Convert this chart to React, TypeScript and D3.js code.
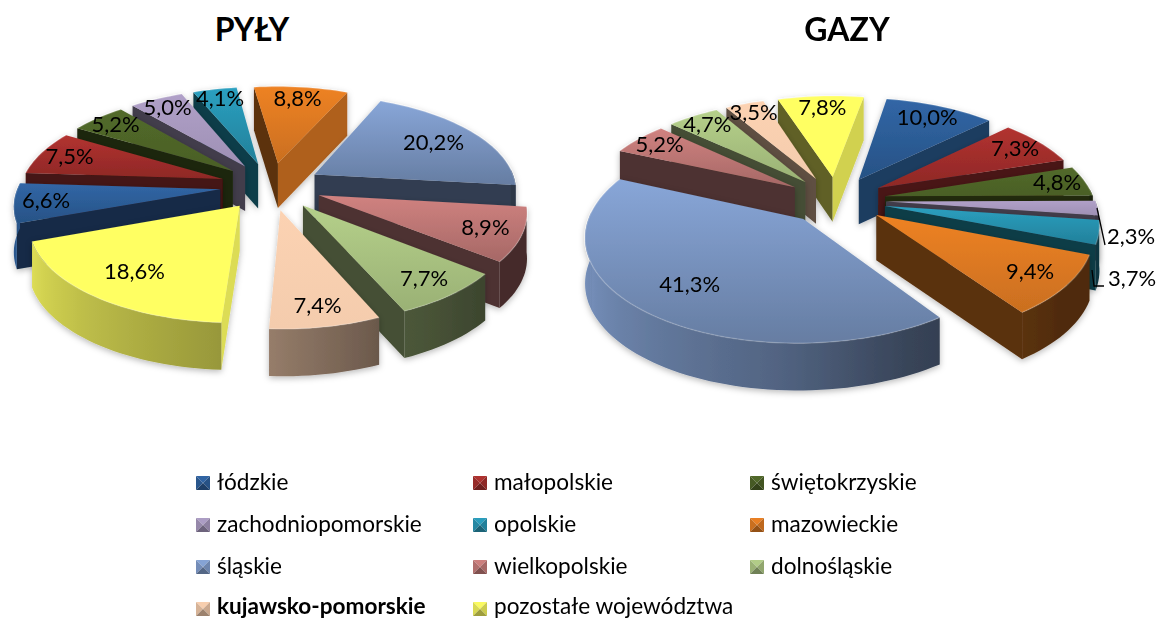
import React from "react";
import * as d3 from "d3";

const regions = ["łódzkie","małopolskie","świętokrzyskie","zachodniopomorskie","opolskie","mazowieckie","śląskie","wielkopolskie","dolnośląskie","kujawsko-pomorskie","pozostałe województwa"];
const pylyValues = [6.6,7.5,5.2,5.0,4.1,8.8,20.2,8.9,7.7,7.4,18.6];
const gazyValues = [10.0,7.3,4.8,2.3,3.7,9.4,41.3,5.2,4.7,3.5,7.8];
const topColors = ["#3166a6","#b23230","#526a2a","#b0a0c8","#2ba0c0","#ee8224","#88a6d8","#d08280","#b5d08a","#fcd2b2","#ffff62"];
const topFade = [0.8,0.8,0.9,0.9,0.8,0.85,0.75,0.8,0.85,0.97,1];
const FONT = "Lato, 'Open Sans', sans-serif";

type Chart = { id:string; title:string; titleX:number; values:number[]; cx:number; cy:number; R:number; e:number; sq:number; start:number };
const charts: Chart[] = [
  { id:"p", title:"PYŁY", titleX:252, values:pylyValues, cx:271, cy:186, R:202, e:51, sq:0.465, start:250 },
  { id:"g", title:"GAZY", titleX:847, values:gazyValues, cx:836, cy:200, R:209, e:50, sq:0.476, start:10 },
];
const DEPTH = 1400, THICK = 45;
const rad = (d:number)=>d*Math.PI/180;
const mul = (c:string,b:number)=>{const r=d3.rgb(c);return d3.rgb(r.r*b,r.g*b,r.b*b).formatHex();};
const faceShade = d3.scaleLinear().domain([90,115,160,190,360]).range([0.88,0.73,0.42,0.37,0.4]).clamp(true);
const rimShade = d3.scaleLinear().domain([90,130,156,184,251,290]).range([0.33,0.33,0.42,0.6,0.87,0.8]).clamp(true);
const labelRadius = d3.scaleLinear().domain([5,20]).range([0.86,0.74]).clamp(true);
const line = d3.line();

function PieChart({c}:{c:Chart}) {
  const arcs = d3.pie<number>().sort(null).value(d=>d).startAngle(rad(c.start)).endAngle(rad(c.start+360))(c.values);
  const pr = (u:number,v:number,z=0):[number,number]=>{
    const s = DEPTH/(DEPTH-v);
    return [c.cx+u*s, c.cy+c.sq*v*s+z*THICK*Math.pow(s,0.25)];
  };
  const defs:React.ReactNode[] = [];
  const slices = arcs.map((a,i)=>{
    const m=(a.startAngle+a.endAngle)/2;
    const ox=c.e*Math.sin(m), oy=-c.e*Math.cos(m);
    const at=(t:number,r:number,z=0)=>pr(ox+r*Math.sin(t),oy-r*Math.cos(t),z);
    const n=Math.max(8,Math.ceil((a.endAngle-a.startAngle)/rad(2)));
    const ts=d3.range(n+1).map(k=>a.startAngle+(a.endAngle-a.startAngle)*k/n);
    const base=topColors[i];
    const topPts=[at(0,0),...ts.map(t=>at(t,c.R))];
    const ys=topPts.map(p=>p[1]);
    const gid=`${c.id}t${i}`;
    defs.push(<linearGradient key={gid} id={gid} gradientUnits="userSpaceOnUse" x1="0" x2="0" y1={d3.min(ys)} y2={d3.max(ys)}>
      <stop offset="0" stopColor={base}/><stop offset="1" stopColor={mul(base,topFade[i])}/></linearGradient>);
    const walls:React.ReactNode[]=[];
    [[a.startAngle,-90],[a.endAngle,90]].forEach(([t,off],k)=>{
      const q=[at(0,0),at(t,c.R),at(t,c.R,1),at(0,0,1)];
      const area=d3.polygonArea(q as any);
      const front=k===0?area>0:area<0;
      const deg=((t*180/Math.PI+off)%360+360)%360;
      if(Math.abs(area)>1) walls.push(<path key={"r"+k} d={line(q as any)+"Z"} fill={mul(base,faceShade(deg))} opacity={front?1:0}/>);
    });
    const vis=ts.filter(t=>{const dg=t*180/Math.PI;return (dg>=85&&dg<=275)||(dg>=445&&dg<=635);});
    if(vis.length>1){
      const rid=`${c.id}r${i}`;
      const xs=vis.map(t=>at(t,c.R)[0]);
      const x0=d3.min(xs)!,x1=d3.max(xs)!;
      const stops=vis.map((t,k)=>({o:(xs[k]-x0)/(x1-x0||1),col:mul(base,rimShade(((t*180/Math.PI)%360)))})).sort((p,q)=>p.o-q.o);
      defs.push(<linearGradient key={rid} id={rid} gradientUnits="userSpaceOnUse" x1={x0} x2={x1} y1="0" y2="0">
        {stops.map((s,k)=><stop key={k} offset={s.o} stopColor={s.col}/>)}</linearGradient>);
      const wallPts=[...vis.map(t=>at(t,c.R)),...vis.slice().reverse().map(t=>at(t,c.R,1))];
      walls.push(<path key="rim" d={line(wallPts as any)+"Z"} fill={`url(#${rid})`}/>);
    }
    const label=at(m,c.R*labelRadius(c.values[i]));
    return {i,m,depth:-Math.cos(m),walls,top:line(topPts as any)+"Z",gid,rimPts:ts.map(t=>at(t,c.R)),label};
  });
  const order=slices.slice().sort((p,q)=>p.depth-q.depth);
  return <g>
    <defs>{defs}</defs>
    <text x={c.titleX} y={41} textAnchor="middle" fontFamily={FONT} fontWeight={700} fontSize={32} fill="#000">{c.title}</text>
    {order.map(s=><g key={s.i} filter="url(#soft)">
      {s.walls}
      <path d={s.top} fill={`url(#${s.gid})`}/>
      <path d={line(s.rimPts as any)!} fill="none" stroke="#fff" strokeOpacity={0.18} strokeWidth={1.5}/>
    </g>)}
    {slices.map(s=>{
      const v=c.values[s.i];
      if(c.id==="g"&&(v===2.3||v===3.7)) return null;
      return <text key={s.i} x={s.label[0]} y={s.label[1]+7} textAnchor="middle" fontFamily={FONT} fontSize={22} fill="#000">{v.toFixed(1).replace(".",",")}%</text>;
    })}
  </g>;
}

function Legend(){
  const cols=d3.scalePoint<number>().domain([0,1,2]).range([196,750]);
  const rows=d3.scalePoint<number>().domain([0,1,2,3]).range([483,609]);
  return <g>{regions.map((name,i)=>{
    const x=cols(i%3)!, y=rows(Math.floor(i/3))!, s=14;
    const b=topColors[i];
    const x0=x,y0=y-s/2,x1=x+s,y1=y+s/2,mx=x+s/2,my=y;
    return <g key={name}>
      <path d={`M${x0},${y0}L${x1},${y0}L${mx},${my}Z`} fill={mul(b,0.98)}/>
      <path d={`M${x0},${y0}L${x0},${y1}L${mx},${my}Z`} fill={mul(b,0.85)}/>
      <path d={`M${x1},${y0}L${x1},${y1}L${mx},${my}Z`} fill={mul(b,0.8)}/>
      <path d={`M${x0},${y1}L${x1},${y1}L${mx},${my}Z`} fill={mul(b,0.62)}/>
      <text x={x+21} y={Math.min(y+7,614)} fontFamily={FONT} fontSize={22.6} fontWeight={i===9?700:400} fill="#000">{name}</text>
    </g>;
  })}</g>;
}

export default function App(){
  return <svg width={1158} height={619} style={{position:"absolute",left:0,top:0,background:"#fff"}}>
    <defs>
      <filter id="soft" x="-20%" y="-20%" width="140%" height="140%">
        <feDropShadow dx={0} dy={2} stdDeviation={3} floodColor="#000" floodOpacity={0.28}/>
      </filter>
    </defs>
    {charts.map(c=><PieChart key={c.id} c={c}/>)}
    <path d="M1097,208L1105,245" stroke="#000" strokeWidth={1.3} fill="none"/>
    <path d="M1092,270L1094,286L1104,286" stroke="#000" strokeWidth={1.3} fill="none"/>
    <text x={1131} y={244} textAnchor="middle" fontFamily={FONT} fontSize={22}>2,3%</text>
    <text x={1132} y={286} textAnchor="middle" fontFamily={FONT} fontSize={22}>3,7%</text>
    <Legend/>
  </svg>;
}
